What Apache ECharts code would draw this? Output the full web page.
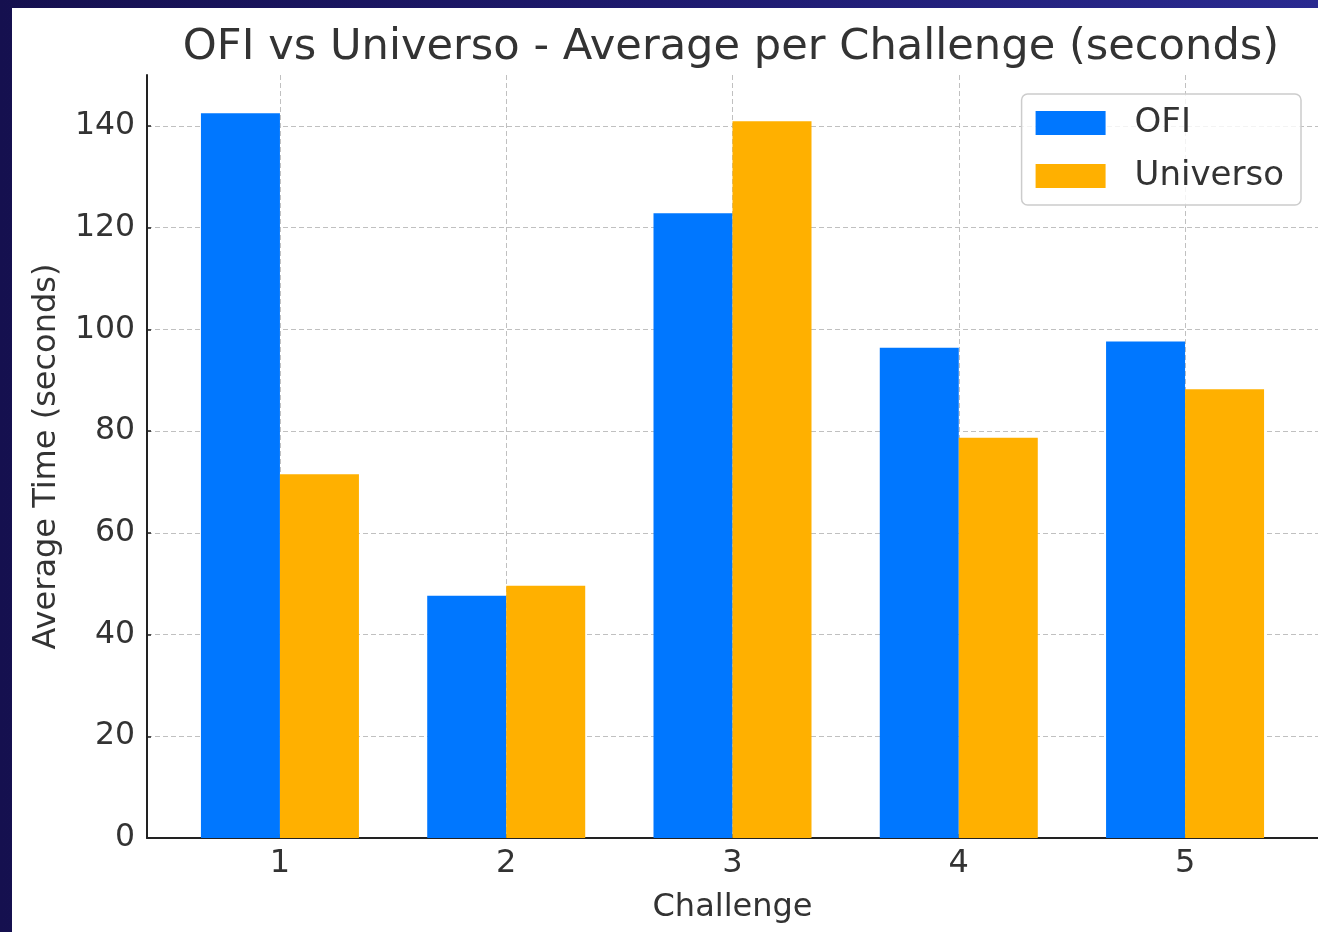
<!DOCTYPE html>
<html>
<head>
<meta charset="utf-8">
<script src="https://cdn.jsdelivr.net/npm/echarts@6/dist/echarts.min.js"></script>
<style>
  html, body { margin: 0; padding: 0; width: 1318px; height: 932px; overflow: hidden;
    background: linear-gradient(90deg, #15104f 0%, #1e1a6e 50%, #2a2a90 100%); }
  #chart { position: absolute; left: 12px; top: 8px; width: 1306px; height: 924px; background: #ffffff; }
</style>
</head>
<body>
<div id="chart"></div>
<script>
const categories = ['1', '2', '3', '4', '5'];
const categoryPositions = [0, 1, 2, 3, 4];
const ofiValues = [142.5, 47.6, 122.8, 96.4, 97.6];
const universoValues = [71.5, 49.6, 140.9, 78.7, 88.2];
const yTickValues = [0, 20, 40, 60, 80, 100, 120, 140];

const FONT = 'DejaVu Sans';
const TEXT = '#333333';

const chart = echarts.init(document.getElementById('chart'), null, { renderer: 'canvas' });

const gridDash = { color: '#c0c0c0', width: 1, type: [5, 3] };

chart.setOption({
  animation: false,
  textStyle: { fontFamily: FONT, color: TEXT },
  title: {
    text: 'OFI vs Universo - Average per Challenge (seconds)',
    left: 714,
    textAlign: 'center',
    top: 13,
    textStyle: { fontFamily: FONT, fontSize: 43.2, fontWeight: 'normal', color: TEXT }
  },
  legend: {
    orient: 'vertical',
    right: 17,
    top: 86,
    padding: [12, 17, 12, 14],
    itemWidth: 70,
    itemHeight: 24,
    itemGap: 19,
    icon: 'rect',
    backgroundColor: 'rgba(255,255,255,0.8)',
    borderColor: '#cccccc',
    borderWidth: 1.5,
    borderRadius: 6,
    textStyle: { fontFamily: FONT, fontSize: 34, color: TEXT, lineHeight: 32, padding: [0, 0, 0, 24] },
    data: ['OFI', 'Universo']
  },
  grid: { left: 135, right: 0, top: 67, bottom: 94, containLabel: false },
  xAxis: {
    type: 'value',
    min: -0.5875,
    max: 4.5875,
    name: 'Challenge',
    nameLocation: 'middle',
    nameGap: 54,
    nameTextStyle: { fontFamily: FONT, fontSize: 32, color: TEXT },
    axisLine: { show: true, onZero: false, lineStyle: { color: '#222222', width: 2 } },
    axisTick: { show: true, inside: true, length: 4, customValues: categoryPositions, lineStyle: { color: '#222222', width: 1.5 } },
    axisLabel: {
      customValues: categoryPositions,
      margin: 10,
      fontFamily: FONT, fontSize: 32, color: TEXT,
      formatter: function (v) { const i = Math.round(v); return (Math.abs(v - i) < 1e-6 && categories[i] !== undefined) ? categories[i] : ''; }
    },
    splitLine: { show: true, lineStyle: gridDash }
  },
  yAxis: {
    type: 'value',
    min: 0,
    max: 150,
    name: 'Average Time (seconds)',
    nameLocation: 'middle',
    nameRotate: 90,
    nameGap: 84,
    nameTextStyle: { fontFamily: FONT, fontSize: 32, color: TEXT },
    axisLine: { show: true, onZero: false, lineStyle: { color: '#222222', width: 2 } },
    axisTick: { show: true, inside: true, length: 4, customValues: yTickValues, lineStyle: { color: '#222222', width: 1.5 } },
    axisLabel: { customValues: yTickValues, margin: 12, fontFamily: FONT, fontSize: 31.5, color: TEXT },
    splitLine: { show: true, lineStyle: gridDash }
  },
  series: [
    {
      name: 'OFI',
      type: 'bar',
      barWidth: 79,
      barGap: '0%',
      itemStyle: { color: '#0077ff' },
      data: categoryPositions.map((x, i) => [x, ofiValues[i]])
    },
    {
      name: 'Universo',
      type: 'bar',
      barWidth: 79,
      barGap: '0%',
      itemStyle: { color: '#ffb000' },
      data: categoryPositions.map((x, i) => [x, universoValues[i]])
    }
  ]
});
</script>
</body>
</html>
